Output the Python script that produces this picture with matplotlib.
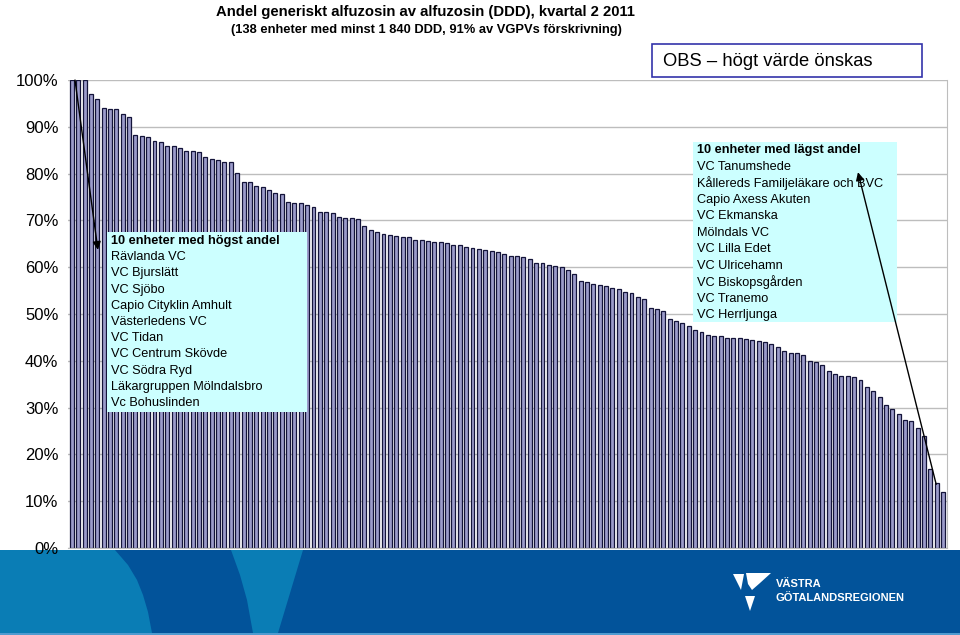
import matplotlib
matplotlib.use('Agg')
import matplotlib.pyplot as plt
from matplotlib.patches import Rectangle, Polygon

# andel generiskt (%) per enhet, sorterat fallande
andel = [100, 100, 100, 97.1, 95.9, 94.1, 93.8, 93.7, 92.7, 92.1,
         88.2, 88.0, 87.8, 87.0, 86.8, 85.8, 85.8, 85.4, 84.9, 84.8,
         84.7, 83.6, 83.1, 82.8, 82.5, 82.4, 80.1, 78.1, 78.1, 77.4,
         77.2, 76.6, 75.8, 75.7, 73.9, 73.8, 73.8, 73.2, 72.9, 71.8,
         71.7, 71.5, 70.8, 70.5, 70.5, 70.2, 68.7, 67.9, 67.6, 67.2,
         66.9, 66.7, 66.5, 66.5, 65.9, 65.8, 65.5, 65.3, 65.3, 65.2,
         64.8, 64.8, 64.4, 64.0, 63.8, 63.6, 63.4, 63.3, 62.8, 62.5,
         62.5, 62.1, 61.7, 60.9, 60.8, 60.5, 60.3, 60.0, 59.4, 58.6,
         57.1, 56.8, 56.5, 56.2, 56.0, 55.5, 55.3, 54.7, 54.4, 53.7,
         53.2, 51.2, 51.0, 50.7, 48.9, 48.5, 48.1, 47.5, 46.6, 46.2,
         45.5, 45.3, 45.2, 44.9, 44.8, 44.8, 44.7, 44.4, 44.2, 44.1,
         43.6, 42.9, 42.2, 41.7, 41.6, 41.2, 40.0, 39.8, 39.2, 37.8,
         37.1, 36.8, 36.7, 36.5, 36.0, 34.3, 33.5, 32.3, 30.5, 29.8,
         28.7, 27.4, 27.1, 25.7, 23.9, 16.9, 13.8, 12.0]

yticks = list(range(0, 101, 10))
ytick_labels = ['%d%%' % t for t in yticks]

hogst = ['Rävlanda VC', 'VC Bjurslätt', 'VC Sjöbo', 'Capio Cityklin Amhult',
         'Västerledens VC', 'VC Tidan', 'VC Centrum Skövde', 'VC Södra Ryd',
         'Läkargruppen Mölndalsbro', 'Vc Bohuslinden']
lagst = ['VC Tanumshede', 'Kållereds Familjeläkare och BVC', 'Capio Axess Akuten',
         'VC Ekmanska', 'Mölndals VC', 'VC Lilla Edet', 'VC Ulricehamn',
         'VC Biskopsgården', 'VC Tranemo', 'VC Herrljunga']

title = 'Andel generiskt alfuzosin av alfuzosin (DDD), kvartal 2 2011'
subtitle = '(138 enheter med minst 1 840 DDD, 91% av VGPVs förskrivning)'

W, H = 960, 635
plt.rcParams['font.family'] = ['Liberation Sans', 'DejaVu Sans']


def fx(x):
    return x / W


def fy(y):
    return 1 - y / H


fig = plt.figure(figsize=(W / 100, H / 100), dpi=100)

# blue footer band (behind the axes so the 0% label stays readable)
fig.patches.append(Rectangle((0, 0), 1, fy(550), transform=fig.transFigure,
                             facecolor='#02539A', edgecolor='none', zorder=-3))
left_arc = [(0, 550), (115, 550), (128, 565), (137, 580), (143, 595), (148, 612),
            (152, 633), (0, 633)]
fig.patches.append(Polygon([(fx(a), fy(b)) for a, b in left_arc], closed=True,
                           transform=fig.transFigure, facecolor='#0A7DB5',
                           edgecolor='none', zorder=-2))
wedge = [(231, 550), (303, 550), (278, 633), (253, 633), (247, 600), (240, 575)]
fig.patches.append(Polygon([(fx(a), fy(b)) for a, b in wedge], closed=True,
                           transform=fig.transFigure, facecolor='#0A7DB5',
                           edgecolor='none', zorder=-2))
fig.patches.append(Rectangle((0, 0), 1, fy(633), transform=fig.transFigure,
                             facecolor='#4F9BD0', edgecolor='none', zorder=-2))
# logo
logo1 = [(733, 574), (744, 574), (741, 590)]
logo2 = [(746, 573), (771, 573), (760, 583), (752, 590), (748, 584)]
logo3 = [(745, 596), (755, 596), (750, 611)]
for shape in (logo1, logo2, logo3):
    fig.patches.append(Polygon([(fx(a), fy(b)) for a, b in shape], closed=True,
                               transform=fig.transFigure, facecolor='white',
                               edgecolor='none', zorder=-1))
fig.text(fx(776), fy(584), 'VÄSTRA', color='white', fontsize=8,
         fontweight='bold', va='center', ha='left')
fig.text(fx(776), fy(598), 'GÖTALANDSREGIONEN', color='white', fontsize=8,
         fontweight='bold', va='center', ha='left')

# titles
fig.text(fx(425), fy(12), title, fontsize=10.7, fontweight='bold',
         ha='center', va='center')
fig.text(fx(426), fy(30), subtitle, fontsize=9.3, fontweight='bold',
         ha='center', va='center')

# OBS box
fig.patches.append(Rectangle((fx(652), fy(77)), fx(922) - fx(652), fy(44) - fy(77),
                             transform=fig.transFigure, facecolor='white',
                             edgecolor='#3333AA', lw=1.2))
fig.text(fx(663), fy(61), 'OBS – högt värde önskas', fontsize=13.2,
         ha='left', va='center')

ax = fig.add_axes([fx(68), fy(548), fx(947) - fx(68), fy(80) - fy(548)])
x = list(range(len(andel)))
ax.bar(x, andel, width=0.62, color='#9C9CCB', edgecolor='#14143A', lw=0.9, zorder=2)
ax.set_xlim(-0.6, len(andel) - 0.4)
ax.set_ylim(0, 100)
ax.set_yticks(yticks)
ax.set_yticklabels(ytick_labels, fontsize=12)
ax.set_xticks([])
ax.tick_params(axis='y', length=0, pad=7)
ax.yaxis.grid(True, color='#BDBDBD', lw=1)
ax.set_axisbelow(True)
ax.spines['left'].set_visible(False)
ax.spines['top'].set_visible(False)
ax.spines['right'].set_color('#BDBDBD')
ax.spines['bottom'].set_color('#BDBDBD')

# boxes with highest / lowest units
ax.add_patch(Rectangle((5.5, 29.1), 31.5, 38.4, facecolor='#CCFFFF',
                       edgecolor='none', zorder=3))
ax.text(6.1, 65.6, '10 enheter med högst andel', fontsize=9.2, fontweight='bold',
        va='center', zorder=4)
for i, name in enumerate(hogst):
    ax.text(6.1, 65.6 - (i + 1) * 3.46, name, fontsize=9.2, va='center', zorder=4)

ax.add_patch(Rectangle((97.6, 48.3), 32.2, 38.45, facecolor='#CCFFFF',
                       edgecolor='none', zorder=3))
ax.text(98.3, 85.0, '10 enheter med lägst andel', fontsize=9.2, fontweight='bold',
        va='center', zorder=4)
for i, name in enumerate(lagst):
    ax.text(98.3, 85.0 - (i + 1) * 3.53, name, fontsize=9.2, va='center', zorder=4)

ax.annotate('', xy=(4.1, 63.7), xytext=(0.5, 100),
            arrowprops=dict(arrowstyle='-|>', color='black', lw=1,
                            mutation_scale=12, shrinkA=0, shrinkB=0), zorder=5)
ax.annotate('', xy=(123.6, 80.3), xytext=(135.9, 13.6),
            arrowprops=dict(arrowstyle='-|>', color='black', lw=1,
                            mutation_scale=12, shrinkA=0, shrinkB=0), zorder=5)

plt.savefig('out.png', dpi=100)
